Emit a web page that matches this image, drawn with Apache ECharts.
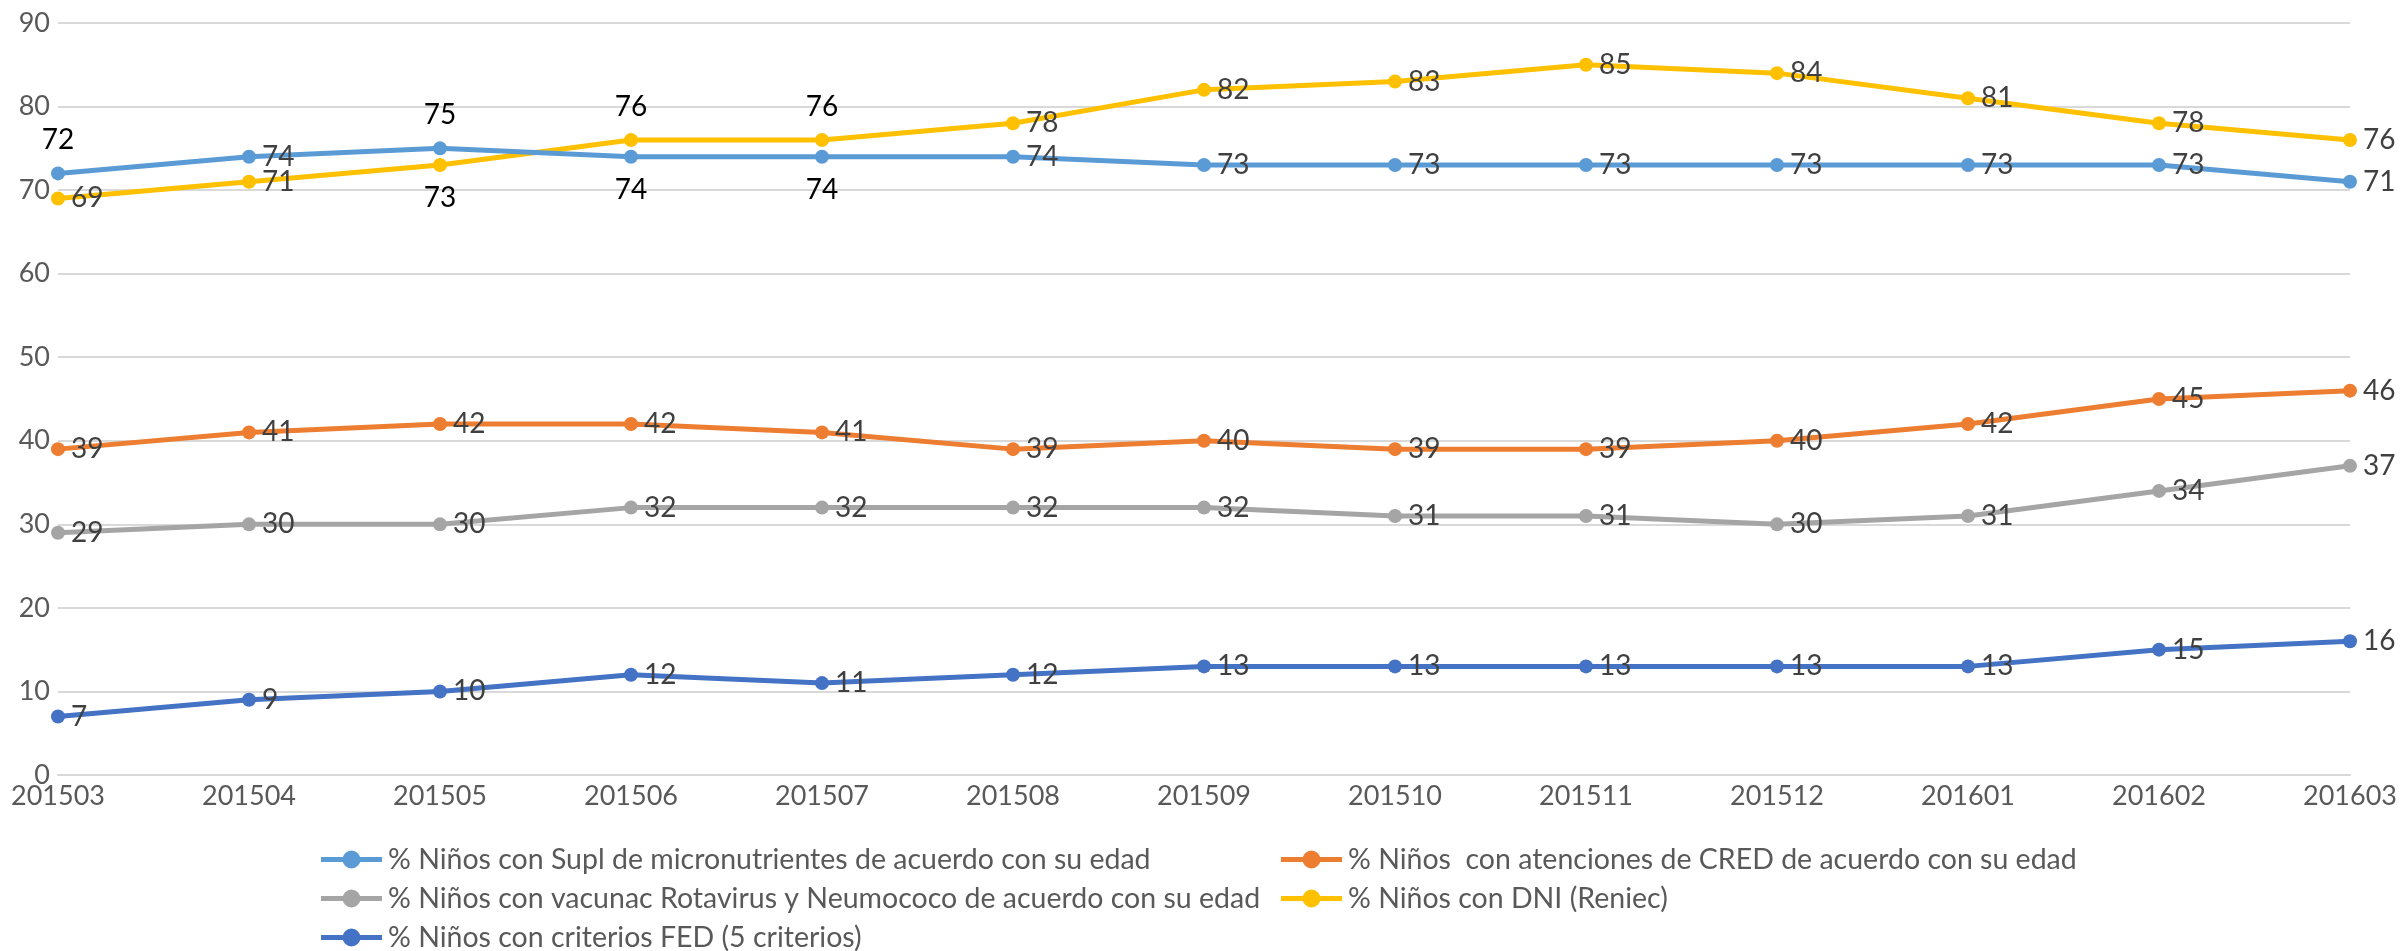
<!DOCTYPE html>
<html><head><meta charset="utf-8">
<script src="https://cdn.jsdelivr.net/npm/echarts@6/dist/echarts.min.js"></script>
<style>html,body{margin:0;padding:0;background:#fff}#c{width:2404px;height:951px}</style>
</head><body><div id="c"></div>
<script>
const categories = ['201503','201504','201505','201506','201507','201508','201509','201510','201511','201512','201601','201602','201603'];
const yTicks = [0,10,20,30,40,50,60,70,80,90];
const names = [
  '% Niños con Supl de micronutrientes de acuerdo con su edad',
  '% Niños  con atenciones de CRED de acuerdo con su edad',
  '% Niños con vacunac Rotavirus y Neumococo de acuerdo con su edad',
  '% Niños con DNI (Reniec)',
  '% Niños con criterios FED (5 criterios)'
];
const supl = [72,74,75,74,74,74,73,73,73,73,73,73,71];
const cred = [39,41,42,42,41,39,40,39,39,40,42,45,46];
const vacun = [29,30,30,32,32,32,32,31,31,30,31,34,37];
const dni = [69,71,73,76,76,78,82,83,85,84,81,78,76];
const fed = [7,9,10,12,11,12,13,13,13,13,13,15,16];
const colors = ['#5B9BD5','#ED7D31','#A5A5A5','#FFC000','#4472C4'];
// label positions overriding default 'right'
const suplPos = {0:'top',2:'top',3:'bottom',4:'bottom'};
const dniPos = {2:'bottom',3:'top',4:'top'};

const FONT = 'Lato, Carlito, "Liberation Sans", sans-serif';
const LEG_ICON = 'path://M0,6.5L61,6.5L61,11.5L0,11.5Z M21.5,9a9,9 0 1,1 18,0a9,9 0 1,1 -18,0Z';
function mk(vals, posMap){
  return vals.map((v,i)=>{
    if(posMap && posMap[i]) return {value:v, label:{position:posMap[i], color:'#000', distance:12}};
    return v;
  });
}
const allData = [mk(supl,suplPos), mk(cred), mk(vacun), mk(dni,dniPos), mk(fed)];
const series = names.map((n,k)=>({
  name:n, type:'line', data:allData[k], symbol:'circle', symbolSize:14,
  lineStyle:{width:5, color:colors[k]}, itemStyle:{color:colors[k]},
  z: k===3?3:(k===0?4:2),
  label:{show:true, position:'right', distance:6, fontSize:28, color:'#404040', fontFamily:FONT}
}));
const legPos = [
  {left:316, top:840},{left:1276, top:840},
  {left:316, top:879},{left:1276, top:879},
  {left:316, top:918}
];
const legends = names.map((n,k)=>({
  data:[{name:n, icon:LEG_ICON}], left:legPos[k].left, top:legPos[k].top, itemWidth:61, itemHeight:18, itemGap:0,
  textStyle:{fontSize:28.5, color:'#595959', fontFamily:FONT, padding:[0,0,0,1]}
}));
const chart = echarts.init(document.getElementById('c'));
chart.setOption({
  animation:false,
  backgroundColor:'#fff',
  legend: legends,
  grid:{left:58, right:54, top:23, bottom:176, containLabel:false},
  xAxis:{type:'category', data:categories, boundaryGap:false,
    axisLine:{show:true, lineStyle:{color:'#D9D9D9', width:2}}, axisTick:{show:false},
    axisLabel:{fontSize:27, color:'#595959', fontFamily:FONT, margin:8}},
  yAxis:{type:'value', min:yTicks[0], max:yTicks[yTicks.length-1], interval:10,
    axisLine:{show:false}, axisTick:{show:false},
    splitLine:{lineStyle:{color:'#D9D9D9', width:2}},
    axisLabel:{fontSize:27, color:'#595959', fontFamily:FONT, margin:8}},
  series: series
});
</script></body></html>
